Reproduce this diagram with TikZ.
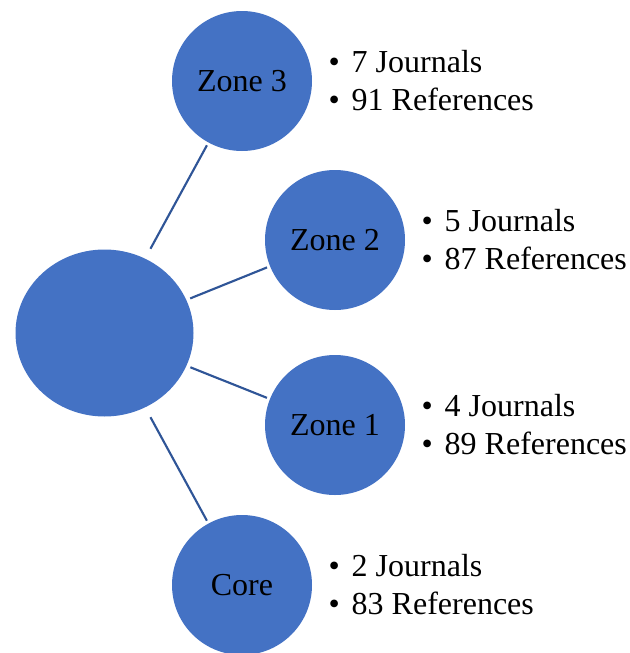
\documentclass[tikz,border=0pt]{standalone}
\usepackage{fontspec}
\setmainfont{Liberation Serif}
\usetikzlibrary{positioning,shapes.geometric}
\definecolor{zonefill}{HTML}{4472C4}
\definecolor{zoneline}{HTML}{2F5597}

\begin{document}
\begin{tikzpicture}[
  x=0.75pt, y=-0.75pt,
  node distance=12pt,
  hub/.style={ellipse,fill=zonefill,minimum width=133.5pt,minimum height=125.25pt,inner sep=0pt},
  zone/.style={circle,fill=zonefill,minimum size=105pt,inner sep=0pt,font=\fontsize{24}{28.5}\selectfont},
  list/.style={align=left,inner sep=0pt,font=\fontsize{24}{28.5}\selectfont},
  link/.style={draw=zoneline,line width=1.6pt,shorten >=2.25pt}
]
\useasboundingbox (0,0) rectangle (629,653);
\node[hub] (hub) at (104.5,333) {};
\node[zone] (zone3) at (242,81) {Zone 3};
\node[zone] (zone2) at (335,240) {Zone 2};
\node[zone] (zone1) at (335,425) {Zone 1};
\node[zone] (core) at (242,585) {Core};
\node[list,right=of zone3] (zone3list) {\textbullet\hspace{9pt}7 Journals\\\textbullet\hspace{9pt}91 References};
\node[list,right=of zone2] (zone2list) {\textbullet\hspace{9pt}5 Journals\\\textbullet\hspace{9pt}87 References};
\node[list,right=of zone1] (zone1list) {\textbullet\hspace{9pt}4 Journals\\\textbullet\hspace{9pt}89 References};
\node[list,right=of core] (corelist) {\textbullet\hspace{9pt}2 Journals\\\textbullet\hspace{9pt}83 References};
\draw[link,shorten <=8.25pt] (hub) -- (zone3);
\draw[link,shorten <=3pt] (hub) -- (zone2);
\draw[link,shorten <=3pt] (hub) -- (zone1);
\draw[link,shorten <=8.25pt] (hub) -- (core);
\end{tikzpicture}
\end{document}
